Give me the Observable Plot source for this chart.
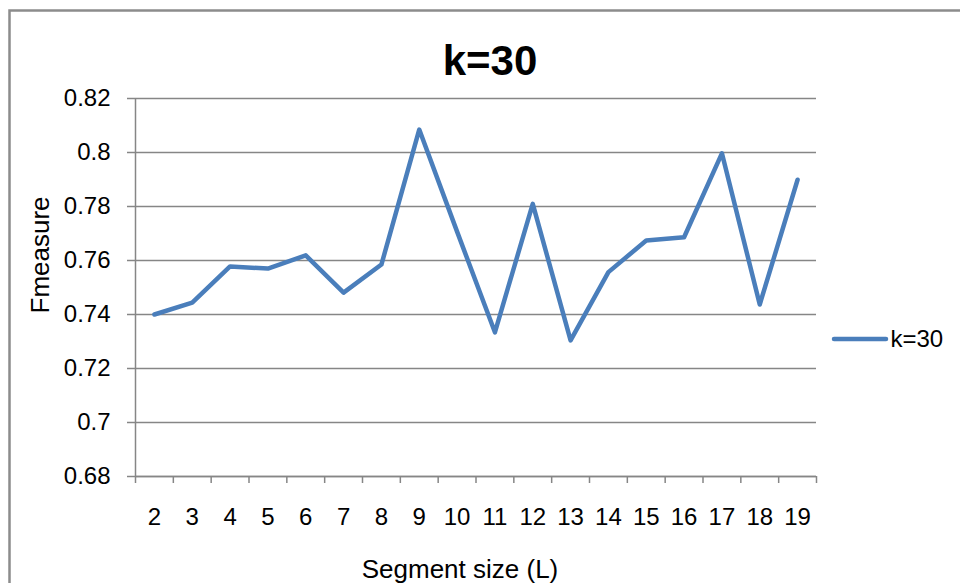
<!DOCTYPE html>
<html>
<head>
<meta charset="utf-8">
<script src="https://cdn.jsdelivr.net/npm/d3@7"></script>
<script src="https://cdn.jsdelivr.net/npm/@observablehq/plot@0.6"></script>
<style>
  html, body { margin: 0; padding: 0; background: #fff; }
  #chart { width: 960px; height: 583px; overflow: hidden; }
  svg { font-family: "Liberation Sans", Arial, sans-serif; }
</style>
</head>
<body>
<div id="chart"></div>
<script>
const categories = ["2","3","4","5","6","7","8","9","10","11","12","13","14","15","16","17","18","19"];
const values = [0.740, 0.7444, 0.7578, 0.757, 0.7619, 0.7481, 0.7585, 0.8085, 0.7707, 0.7334, 0.7810, 0.7304, 0.7557, 0.7674, 0.7686, 0.7997, 0.7437, 0.7899];
const yTicks = [0.68, 0.70, 0.72, 0.74, 0.76, 0.78, 0.80, 0.82];
const yTickLabels = ["0.68", "0.7", "0.72", "0.74", "0.76", "0.78", "0.8", "0.82"];
const seriesName = "k=30";
const chartTitle = "k=30";
const xTitle = "Segment size (L)";
const yTitle = "Fmeasure";

const data = categories.map((c, i) => ({cat: c, pos: i + 0.5, value: values[i]}));
const centers = categories.map((c, i) => i + 0.5);
const boundaries = d3.range(categories.length + 1);

const lineColor = "#4a7ebb";
const gridColor = "#868686";

const plot = Plot.plot({
  width: 960,
  height: 583,
  marginLeft: 135,
  marginRight: 144,
  marginTop: 98,
  marginBottom: 107,
  style: {fontFamily: "'Liberation Sans', Arial, sans-serif", background: "white"},
  x: {type: "linear", domain: [0, categories.length], axis: null, label: null},
  y: {type: "linear", domain: [0.68, 0.82], axis: null, label: null},
  marks: [
    Plot.gridY(yTicks, {stroke: gridColor, strokeOpacity: 1, strokeWidth: 1.5}),
    Plot.axisY(yTicks, {
      label: null,
      tickSize: 8, tickPadding: 17, fontSize: 24,
      stroke: gridColor, strokeWidth: 1.5, fill: "black",
      tickFormat: d => yTickLabels[yTicks.indexOf(d)]
    }),
    Plot.ruleX([0], {stroke: gridColor, strokeWidth: 1.5}),
    Plot.ruleY([0.68], {stroke: gridColor, strokeWidth: 1.5}),
    Plot.axisX(boundaries, {label: null, tickSize: 7, tickFormat: () => "", stroke: gridColor, strokeWidth: 1.5}),
    Plot.axisX(centers, {
      label: null,
      tickSize: 0, tickPadding: 31, fontSize: 24, fill: "black",
      tickFormat: d => categories[Math.round(d - 0.5)]
    }),
    Plot.line(data, {
      x: "pos", y: "value", stroke: lineColor, strokeWidth: 4.5,
      strokeLinejoin: "round", strokeLinecap: "round"
    }),
    Plot.text([chartTitle], {
      frameAnchor: "top", dx: 14, dy: -24, lineAnchor: "bottom",
      fontSize: 42, fontWeight: "bold", fill: "black"
    }),
    Plot.text([yTitle], {
      frameAnchor: "left", dx: -95, dy: 26, rotate: -90,
      fontSize: 26, fill: "black"
    }),
    Plot.text([xTitle], {
      frameAnchor: "bottom", dx: -16, dy: 93, lineAnchor: "middle",
      fontSize: 26, fill: "black"
    }),
    Plot.text([seriesName], {
      frameAnchor: "right", dx: 74, dy: 52, textAnchor: "start",
      fontSize: 24, fill: "black"
    })
  ]
});

const svg = d3.select(plot);
svg.style("overflow", "hidden");
// outer chart-area border
svg.insert("rect", ":first-child")
  .attr("x", 9.5).attr("y", 10.5)
  .attr("width", 1200).attr("height", 1200)
  .attr("fill", "white")
  .attr("stroke", "#8c8c8c").attr("stroke-width", 2.5);
// legend swatch
svg.append("line")
  .attr("x1", 834).attr("x2", 886)
  .attr("y1", 339).attr("y2", 339)
  .attr("stroke", lineColor).attr("stroke-width", 4.5)
  .attr("stroke-linecap", "round");

document.getElementById("chart").appendChild(plot);
</script>
</body>
</html>
